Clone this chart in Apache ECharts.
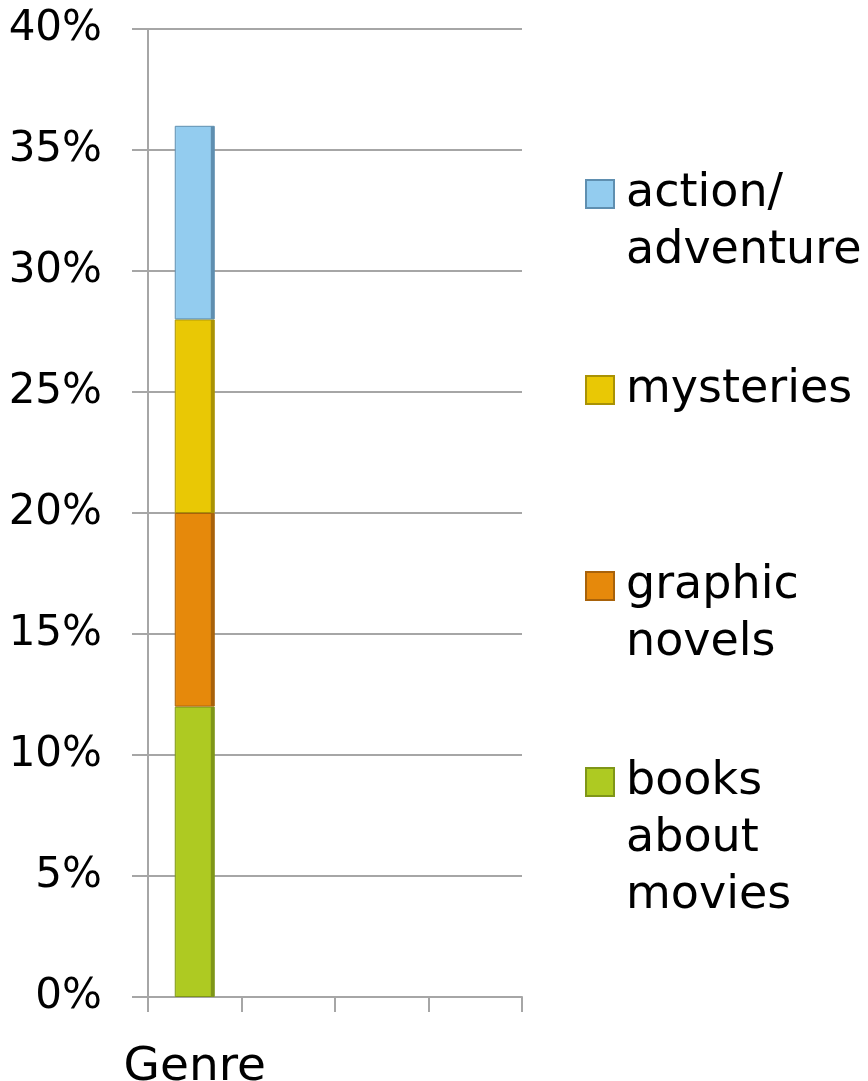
<!DOCTYPE html>
<html>
<head>
<meta charset="utf-8">
<script src="https://cdn.jsdelivr.net/npm/echarts@6/dist/echarts.min.js"></script>
<style>
  html, body { margin: 0; padding: 0; background: #fff; }
  #chart { width: 868px; height: 1081px; }
</style>
</head>
<body>
<div id="chart"></div>
<script>
// Reading-survey genre shares (percent), stacked in one column
const categories = ['Genre', '', '', ''];
const seriesNames = ['books about movies', 'graphic novels', 'mysteries', 'action/ adventure'];
const legendLabels = ['books\nabout\nmovies', 'graphic\nnovels', 'mysteries', 'action/\nadventure'];
const booksAboutMovies = [12, null, null, null];
const graphicNovels = [8, null, null, null];
const mysteries = [8, null, null, null];
const actionAdventure = [8, null, null, null];
const yTicks = { min: 0, max: 40, interval: 5 };

const values = [booksAboutMovies, graphicNovels, mysteries, actionAdventure];
const colors = [
  { base: '#AECA22', light: '#C4DC46', dark: '#7F9618' },
  { base: '#E6890B', light: '#F2A23A', dark: '#A8620A' },
  { base: '#E9C805', light: '#F5DC3C', dark: '#A99205' },
  { base: '#93CCEF', light: '#B3DCF5', dark: '#5F8FB0' }
];

function bevel(c) {
  return new echarts.graphic.LinearGradient(0, 0, 1, 0, [
    { offset: 0, color: c.light },
    { offset: 0.05, color: c.base },
    { offset: 0.89, color: c.base },
    { offset: 0.91, color: c.dark },
    { offset: 1, color: c.dark }
  ]);
}

const FONT = 'DejaVu Sans';
const LINE_H = 57;
const MARK = 28;
const ICON_W = 35;   // square plus the gap before the label

// One legend block per series. The icon path is a square at the top-left of a
// larger box, so the square lines up with the first line of a wrapped label.
const markerTops = [768, 572, 376, 180];
const legends = seriesNames.map((name, i) => {
  const lines = legendLabels[i].split('\n').length;
  const boxH = MARK + (lines - 1) * LINE_H;
  const shift = (LINE_H - MARK) / 2;   // label box pokes above the square
  return {
    data: [name],
    left: 585,
    top: markerTops[i] - shift,
    padding: 0,
    itemWidth: ICON_W,
    itemHeight: boxH,
    itemGap: 12,
    icon: 'path://M0,0h' + MARK + 'v' + MARK + 'h-' + MARK + 'z' + 'M' + ICON_W + ',' + boxH,
    selectedMode: false,
    formatter: () => legendLabels[i],
    textStyle: {
      fontFamily: FONT,
      fontSize: 46,
      lineHeight: LINE_H,
      color: '#000'
    }
  };
});

const chart = echarts.init(document.getElementById('chart'), null, { renderer: 'canvas' });
chart.setOption({
  animation: false,
  backgroundColor: '#fff',
  grid: { left: 148, right: 346, top: 29, bottom: 84, containLabel: false, outerBoundsMode: 'none' },
  legend: legends,
  xAxis: {
    type: 'category',
    data: categories,
    boundaryGap: true,
    axisLine: { show: true, lineStyle: { color: '#A6A6A6', width: 2 } },
    axisTick: { show: true, length: 15, alignWithLabel: false, lineStyle: { color: '#A6A6A6', width: 2 } },
    axisLabel: { fontFamily: FONT, fontSize: 47, color: '#000', margin: 47, interval: 0 }
  },
  yAxis: {
    type: 'value',
    min: yTicks.min,
    max: yTicks.max,
    interval: yTicks.interval,
    axisLine: { show: true, lineStyle: { color: '#A6A6A6', width: 2 } },
    axisTick: { show: true, length: 16, lineStyle: { color: '#A6A6A6', width: 2 } },
    splitLine: { show: true, lineStyle: { color: '#A6A6A6', width: 2 } },
    axisLabel: {
      fontFamily: FONT, fontSize: 42, color: '#000', margin: 46,
      formatter: v => v + '%'
    }
  },
  series: seriesNames.map((name, i) => ({
    name: name,
    type: 'bar',
    stack: 'genre',
    barWidth: 40,
    data: values[i],
    itemStyle: {
      color: bevel(colors[i]),
      borderColor: colors[i].dark,
      borderWidth: 1
    }
  }))
});
</script>
</body>
</html>
